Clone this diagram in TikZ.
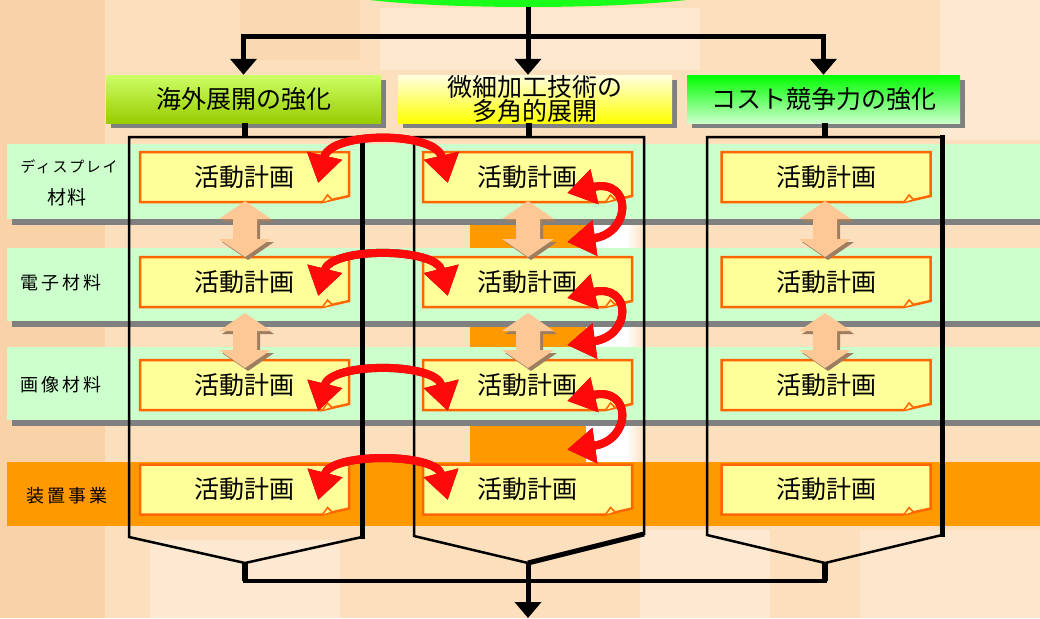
\documentclass[tikz,border=0pt]{standalone}
\usepackage{fontspec}
\newfontfamily\jp{Noto Sans CJK JP}
\usetikzlibrary{arrows.meta,calc}
\definecolor{peach}{HTML}{FCDFBC}
\definecolor{peachdark}{HTML}{F8CA9C}
\definecolor{peachlight}{HTML}{FEEEDC}
\definecolor{bandgreen}{HTML}{CCFFCC}
\definecolor{bandorange}{HTML}{FF9900}
\definecolor{bandshadow}{HTML}{808080}
\definecolor{boxfill}{HTML}{FFFF99}
\definecolor{boxline}{HTML}{FF6600}
\definecolor{udfill}{HTML}{FDC796}
\definecolor{udshadow}{HTML}{9E7E60}
\definecolor{arcred}{HTML}{FF0A0A}
\definecolor{arcdark}{HTML}{A00000}
\definecolor{topgreen}{HTML}{1AFF1A}
\definecolor{hatop}{HTML}{CCFF66}
\definecolor{habot}{HTML}{99CC00}
\definecolor{hbtop}{HTML}{FFFFE0}
\definecolor{hbbot}{HTML}{FFFF00}
\definecolor{hctop}{HTML}{00FF00}
\definecolor{hcmid}{HTML}{B8FFB8}
\definecolor{hcbot}{HTML}{CCFFCC}
\tikzset{
  hdrtext/.style={inner sep=0pt, minimum width=275pt, minimum height=48pt,
    font=\jp\fontsize{25}{21}\selectfont, align=center},
  acttext/.style={inner sep=0pt, minimum width=209pt, minimum height=50pt,
    font=\jp\fontsize{25}{25}\selectfont},
  actshape/.style={fill=boxfill, draw=boxline, line width=2.5pt, line join=miter},
  rowlabel/.style={inner sep=0pt, font=\jp\fontsize{18}{18}\selectfont\addfontfeatures{LetterSpace=17}},
  lanebox/.style={draw=black, line width=2.5pt, line join=miter},
  lanethick/.style={draw=black, line width=5pt},
  conn/.style={draw=black, line width=5pt},
  connarrow/.style={conn, -{Triangle[length=16pt,width=26pt]}},
  redarcstyle/.style={line width=8pt, {Triangle[length=28pt,width=34pt]}-{Triangle[length=28pt,width=34pt]}},
  udarrow/.style={fill=udfill},
  udshade/.style={fill=udshadow},
}
\newcommand\updown[3]{%
  \fill[udshade] (#1+3,#2+3) -- (#1+29,#2+21) -- (#1+15,#2+21) -- (#1+15,#3-15) -- (#1+29,#3-15) -- (#1+3,#3+3) -- (#1-23,#3-15) -- (#1-9,#3-15) -- (#1-9,#2+21) -- (#1-23,#2+21) -- cycle;
  \fill[udarrow] (#1,#2) -- (#1+26,#2+18) -- (#1+12,#2+18) -- (#1+12,#3-18) -- (#1+26,#3-18) -- (#1,#3) -- (#1-26,#3-18) -- (#1-12,#3-18) -- (#1-12,#2+18) -- (#1-26,#2+18) -- cycle;
}
\newcommand\actbox[3]{%
  \path[actshape] (#2-104.5,#3-25) -- (#2+104.5,#3-25) -- (#2+104.5,#3+19) -- (#2+78,#3+25) -- (#2-104.5,#3+25) -- cycle;
  \draw[draw=boxline, line width=1.5pt, fill=boxfill] (#2+78,#3+25) -- (#2+83,#3+18) -- (#2+87,#3+22);
  \node[acttext] (#1) at (#2,#3) {活動計画};
}
\newcommand\redarc[1]{%
  \draw[redarcstyle, arcdark, shift={(1.5,2.5)}] #1;
  \draw[redarcstyle, arcred] #1;
}
\newcommand\hrow[4]{%
  \redarc{($(#1.east)+(-31,#3)$) .. controls ($(#1.east)+(-19,#4)$) and ($(#2.west)+(13,#4)$) .. ($(#2.west)+(25,#3)$)}
}
\newcommand\vrow[2]{%
  \redarc{($(#1.east)+(-65,16)$) .. controls ($(#1.east)+(0,1)$) and ($(#2.east)+(0,-49)$) .. ($(#2.east)+(-65,-40)$)}
}
\begin{document}
\begin{tikzpicture}[x=1pt,y=-1pt]
\useasboundingbox (0,0) rectangle (1040,618);
% background
\fill[peach] (0,0) rectangle (1040,618);
\fill[peachdark, opacity=0.6] (0,0) rectangle (105,618);
\fill[peachdark, opacity=0.3] (240,0) rectangle (360,60);
\fill[peachlight, opacity=0.6] (380,8) rectangle (700,70);
\fill[peachlight, opacity=0.7] (940,0) rectangle (1040,140);
\fill[peachlight, opacity=0.7] (150,540) rectangle (340,618);
\fill[peachlight, opacity=0.7] (640,530) rectangle (770,618);
\fill[peachlight, opacity=0.5] (860,530) rectangle (1040,618);
% top green source
\fill[topgreen] (528,-11) ellipse [x radius=200pt, y radius=18pt];
% orange and white blocks behind column 2
\fill[bandorange] (470,218) rectangle (586,462);
\fill[white] (586,218) rectangle (626,462);
\shade[left color=white, right color=peach] (626,218) rectangle (645,462);
% row bands
\fill[bandgreen] (7,144) rectangle (1040,219);
\fill[bandshadow] (12,219) rectangle (1040,225);
\fill[bandgreen] (7,248) rectangle (1040,321);
\fill[bandshadow] (12,321) rectangle (1040,327);
\fill[bandgreen] (7,347) rectangle (1040,420);
\fill[bandshadow] (12,420) rectangle (1040,426);
\fill[bandorange] (7,462) rectangle (1040,526);
% row labels
\node[inner sep=0pt, font=\jp\fontsize{15}{15}\selectfont\addfontfeatures{LetterSpace=11}] (r1a) at (69,167) {ディスプレイ};
\node[inner sep=0pt, font=\jp\fontsize{19}{19}\selectfont\addfontfeatures{LetterSpace=10}] (r1b) at (67,197) {材料};
\node[rowlabel] (r2) at (61,283) {電子材料};
\node[rowlabel] (r3) at (61,385) {画像材料};
\node[rowlabel] (r4) at (67,496) {装置事業};
% swimlanes
\coordinate (l1top) at (245,137);
\coordinate (l1bot) at (245,563);
\coordinate (l2top) at (529,137);
\coordinate (l2bot) at (528,563);
\coordinate (l3top) at (825,137);
\coordinate (l3bot) at (825,563);
\draw[lanebox] (129,137) -- (362,137) -- (362,537) -- (l1bot) -- (129,537) -- cycle;
\draw[lanethick] (362,135) -- (362,539);
\draw[lanebox] (414,137) -- (644,137) -- (644,534) -- (l2bot) -- (414,536) -- cycle;
\draw[lanethick] (644,534) -- (l2bot);
\draw[lanebox] (707,137) -- (942,137) -- (942,535) -- (l3bot) -- (707,535) -- cycle;
\draw[lanethick] (942,135) -- (942,537);
% activity boxes
\actbox{b11}{244.5}{177}
\actbox{b12}{244.5}{282}
\actbox{b13}{244.5}{385}
\actbox{b14}{244.5}{489.5}
\actbox{b21}{527.5}{177}
\actbox{b22}{527.5}{282}
\actbox{b23}{527.5}{385}
\actbox{b24}{527.5}{489.5}
\actbox{b31}{826}{177}
\actbox{b32}{826}{282}
\actbox{b33}{826}{385}
\actbox{b34}{826}{489.5}
% up/down arrows
\updown{245}{201}{257}
\updown{245}{313}{368}
\updown{528}{201}{257}
\updown{528}{313}{368}
\updown{825}{201}{257}
\updown{825}{313}{368}
% red exchange arrows
\hrow{b11}{b21}{6}{-46}
\hrow{b12}{b22}{14}{-35}
\hrow{b13}{b23}{26}{-23}
\hrow{b14}{b24}{10.5}{-37}
\vrow{b21}{b22}
\vrow{b22}{b23}
\vrow{b23}{b24}
% headers
\fill[bandshadow] (111,80) rectangle (386,128);
\node[hdrtext, top color=hatop, bottom color=habot] (h1) at (243.5,99) {海外展開の強化};
\fill[bandshadow] (403,80) rectangle (677,128);
\node[hdrtext, top color=hbtop, bottom color=hbbot, minimum width=274pt] (h2) at (535,99) {微細加工技術の\\多角的展開};
\fill[bandshadow] (692,80) rectangle (965,128);
\node[hdrtext, top color=hctop, middle color=hcmid, bottom color=hcbot, minimum width=273pt] (h3) at (823.5,99) {コスト競争力の強化};
% connectors at the top
\coordinate (src) at (528,7);
\coordinate (tj) at (528,37);
\draw[conn] (src) -- (tj);
\draw[connarrow] (tj) -| (h1.north);
\draw[connarrow] (tj) -| (h3.north);
\draw[connarrow] (src) -- (src |- h2.north);
\draw[conn, line width=6pt] (l1top |- h1.south) -- (l1top);
\draw[conn, line width=6pt] (l2top |- h2.south) -- (l2top);
\draw[conn, line width=6pt] (l3top |- h3.south) -- (l3top);
% connectors at the bottom
\coordinate (bj) at (528,581);
\coordinate (bend) at (528,618);
\draw[conn, line width=4.5pt] (l1bot) |- (bj);
\draw[conn, line width=4.5pt] (l3bot) |- (bj);
\draw[conn, line width=6pt] (l1bot) -- ($(l1bot)+(0,18)$);
\draw[conn, line width=6pt] (l3bot) -- ($(l3bot)+(0,18)$);
\draw[connarrow] (l2bot) -- (bend);
\end{tikzpicture}
\end{document}
